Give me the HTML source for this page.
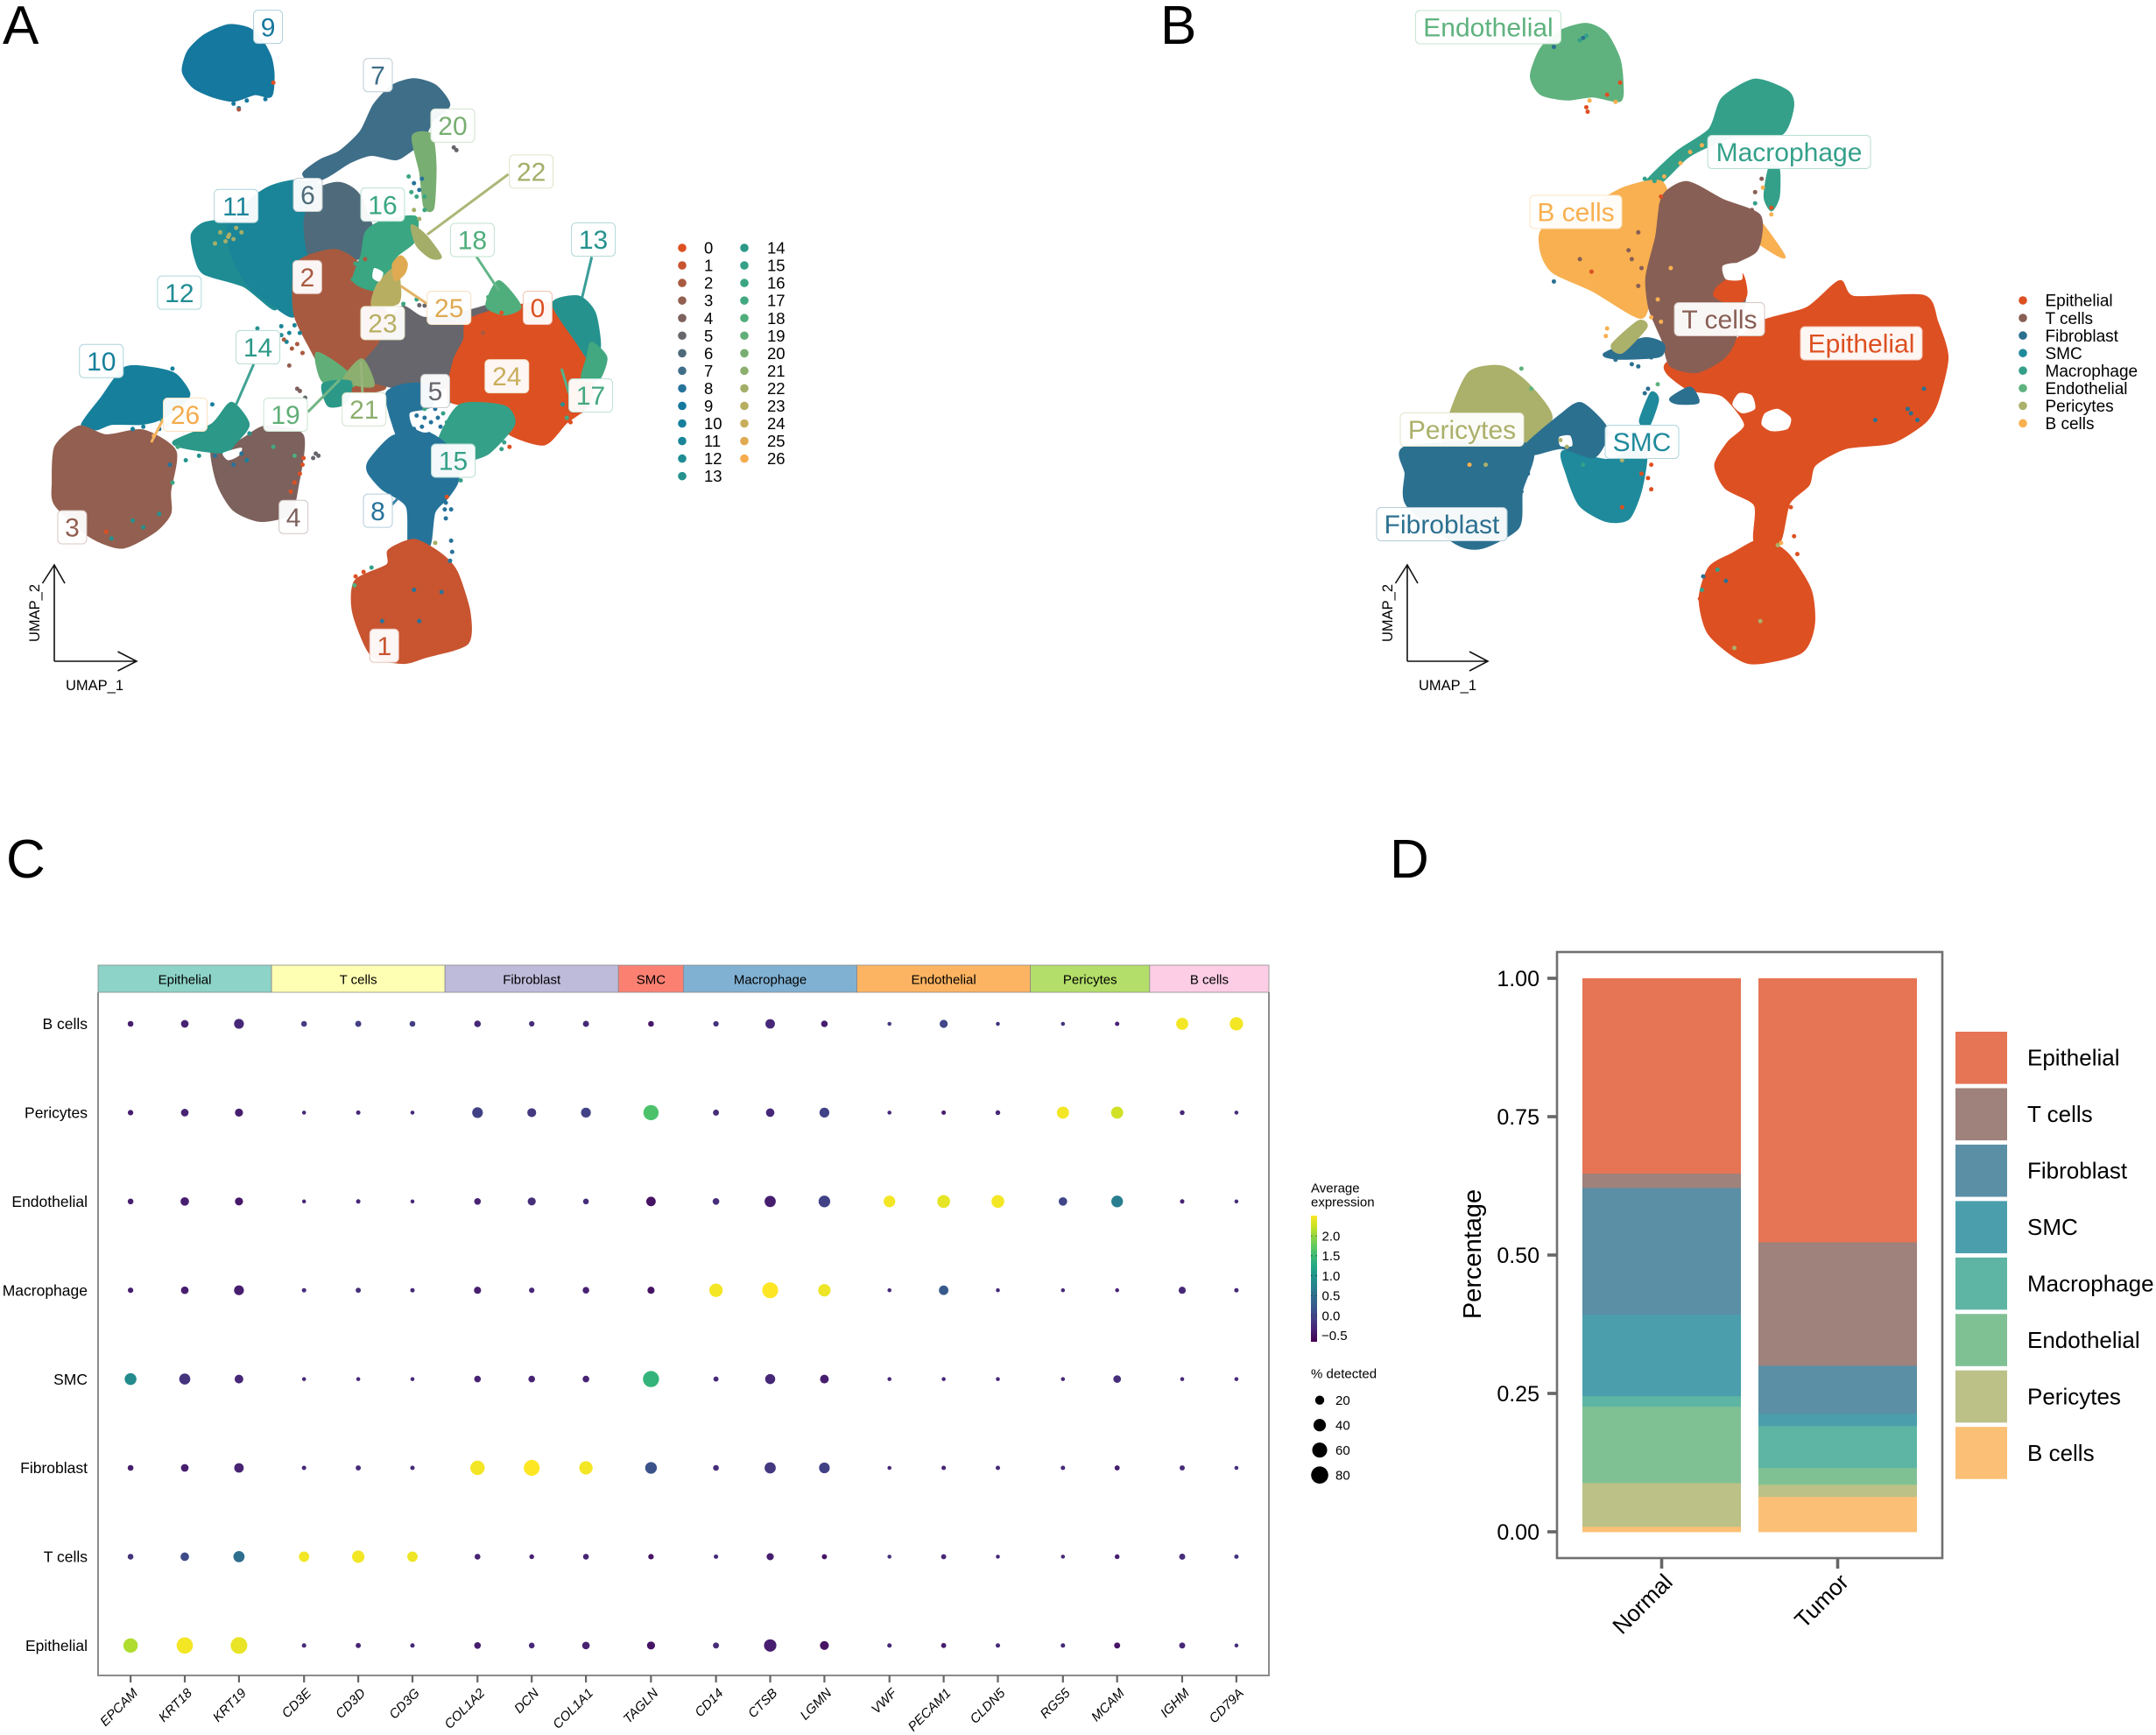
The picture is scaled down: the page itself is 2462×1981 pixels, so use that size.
<!DOCTYPE html>
<html lang="en">
<head>
<meta charset="utf-8">
<title>Single-cell atlas figure</title>
<style>
html,body{margin:0;padding:0;background:#fff;}
svg{display:block;font-family:"Liberation Sans",Arial,sans-serif;}
</style>
</head>
<body>
<svg id="figure" xmlns="http://www.w3.org/2000/svg" width="2462" height="1981" viewBox="0 0 2462 1981">
<defs>
<linearGradient id="viridis-gradient" x1="0" y1="1" x2="0" y2="0">
<stop offset="0" stop-color="#440154"/><stop offset="0.1" stop-color="#482475"/><stop offset="0.2" stop-color="#414487"/><stop offset="0.3" stop-color="#355f8d"/><stop offset="0.4" stop-color="#2a788e"/><stop offset="0.5" stop-color="#21918c"/><stop offset="0.6" stop-color="#22a884"/><stop offset="0.7" stop-color="#44bf70"/><stop offset="0.8" stop-color="#7ad151"/><stop offset="0.9" stop-color="#bddf26"/><stop offset="1" stop-color="#fde725"/>
</linearGradient>
</defs>
</svg>
<script>
/* ---------- Panel A data (UMAP units x100, second axis pointing down) ---------- */
const clusterIds = [0,1,2,3,4,5,6,7,8,9,10,11,12,13,14,15,16,17,18,19,20,21,22,23,24,25,26];
const clusterColors = ["#dd5022","#c85430","#a85a40","#925f50","#7d615c","#66666c","#4f6a7a","#3e6e88","#26739a","#15789e","#16809c","#1a8598","#1f8c94","#25928e","#2b9888","#35a088","#3aa682","#42a880","#50ae7c","#62ae78","#78ae72","#8cae6e","#a4ae68","#b8ae62","#c8ae5c","#e0aa52","#f4ac4c"];
const clusterBlobsA = [
 [9,[[345,160],[355,115],[385,80],[430,57],[470,65],[495,95],[510,130],[515,170],[510,215],[480,210],[440,225],[400,215],[365,195]]],
 [7,[[640,340],[680,295],[705,235],[740,192],[780,178],[820,192],[846,235],[815,270],[795,315],[770,340],[745,356],[700,346],[660,362],[620,392],[590,406],[572,388],[605,358]]],
 [12,[[362,525],[385,500],[430,497],[480,540],[520,690],[460,640],[385,612],[368,575]]],
 [11,[[430,510],[470,450],[510,418],[560,405],[615,425],[610,520],[590,590],[575,660],[552,708],[510,678],[470,640],[440,580]]],
 [6,[[575,490],[600,425],[640,410],[675,435],[703,520],[690,570],[640,585],[585,575]]],
 [20,[[778,305],[812,302],[820,370],[816,465],[800,462],[792,385]]],
 [2,[[560,590],[630,560],[675,590],[700,650],[730,700],[765,725],[735,790],[705,830],[725,868],[670,878],[615,838],[585,778],[555,700]]],
 [5,[[755,688],[800,712],[880,697],[948,680],[900,760],[868,830],[838,868],[770,872],[702,853],[682,820],[715,770]]],
 [0,[[882,717],[960,687],[1050,682],[1096,760],[1118,830],[1108,905],[1066,946],[1025,994],[957,968],[944,913],[848,897],[855,810],[875,760]]],
 [13,[[1042,680],[1090,664],[1120,700],[1130,775],[1116,812],[1087,765]]],
 [17,[[1115,768],[1142,800],[1128,848],[1097,848],[1107,800]]],
 [18,[[917,684],[940,630],[980,686],[950,703]]],
 [16,[[690,520],[720,496],[783,486],[780,540],[746,574],[748,608],[708,648],[667,628],[682,570]]],
 [22,[[776,505],[802,528],[830,574],[812,576],[786,549]]],
 [23,[[713,635],[745,600],[753,640],[749,678],[702,684]]],
 [25,[[741,592],[755,574],[766,590],[761,612],[745,626]]],
 [19,[[597,790],[650,829],[666,863],[609,853]]],
 [21,[[649,851],[682,805],[703,863]]],
 [14,[[609,860],[660,855],[651,901],[619,907]]],
 [8,[[729,880],[770,860],[816,869],[806,960],[816,986],[760,992],[741,950]]],
 [15,[[827,985],[867,907],[950,910],[968,950],[921,1013],[881,1033],[857,1067],[827,1043]]],
 [8,[[697,1030],[740,977],[800,967],[843,1000],[863,1070],[843,1113],[818,1146],[808,1222],[772,1222],[767,1133],[720,1093],[694,1056]]],
 [1,[[733,1232],[780,1209],[830,1240],[860,1280],[884,1370],[880,1440],[800,1470],[760,1483],[700,1465],[666,1370],[670,1300],[730,1265]]],
 [10,[[155,950],[192,890],[235,824],[285,824],[330,838],[356,880],[342,906],[300,938],[265,948],[210,948],[182,960]]],
 [3,[[105,1000],[150,955],[200,975],[270,964],[330,1010],[320,1100],[320,1150],[290,1190],[230,1225],[170,1200],[105,1130],[100,1080]]],
 [4,[[400,1000],[450,988],[500,955],[570,975],[560,1090],[545,1150],[490,1165],[440,1140],[410,1080]]],
 [14,[[328,988],[400,950],[436,902],[468,950],[442,992],[422,1012],[350,1002]]]
];
const gapBlobsA = [
 [[772,925],[795,918],[830,912],[838,950],[802,968],[778,955]],
 [[705,600],[722,610],[715,630],[702,622]],
 [[420,1014],[455,1002],[450,1020],[430,1030]]
];
const scatterA = [
 [22,405,545],[22,415,520],[22,432,525],[22,440,535],[22,425,540],[22,455,520],[23,430,530],[22,445,510],
 [11,530,730],[11,545,745],[11,555,728],[11,540,765],[12,530,750],[9,450,242],[2,450,245],[0,515,185],[9,440,232],[9,465,225],[9,500,222],
 [2,560,770],[2,535,760],[2,570,790],[3,545,818],[2,550,780],[11,565,745],[4,565,875],[5,575,890],[4,560,870],[5,600,1020],[5,590,1025],[5,595,1015],[5,855,330],[5,860,336],
 [0,570,1040],[0,565,1060],[0,555,1080],[0,572,1025],[0,548,1100],[18,555,1020],
 [8,850,1140],[8,840,1160],[8,850,1210],[8,852,1235],[8,848,1255],[22,820,1215],[8,840,1125],[8,838,1140],[15,868,1075],[0,842,1112],
 [8,780,1320],[8,790,1390],[8,832,1325],[8,720,1390],[18,668,1310],[0,670,1290],[0,685,1280],[15,700,1270],
 [16,775,430],[16,785,440],[8,780,410],[8,790,425],[16,800,470],[22,780,470],[8,795,400],[22,790,490],[16,770,395],[16,800,440],
 [5,790,683],[5,800,684],[16,760,680],[16,785,670],[2,688,580],[16,670,590],[16,680,610],[16,665,625],[16,690,630],[23,710,660],
 [8,320,1040],[16,325,1080],[16,335,1000],[13,250,1165],[13,270,1180],[13,210,1205],[13,300,1150],[0,200,1190],
 [8,405,1020],[8,440,1040],[10,465,1030],[13,470,970],[8,455,1015],[10,400,905],[13,485,735],[17,515,1000],[13,375,1020],[13,350,1030],
 [26,290,975],[10,270,955],[10,250,960],[8,300,960],[8,315,950],[10,325,825],[13,305,940],
 [8,755,880],[8,770,905],[8,790,890],[8,735,895],[8,800,935],[8,820,915],[8,845,900],[8,825,935],[8,780,960],[16,800,915],[15,835,925],[8,785,930],[8,812,945],[8,795,955],[8,830,955],[15,842,945],
 [0,1060,950],[0,1075,945],[13,1060,905],[17,1068,935],[0,1095,920],[0,960,1000],[15,945,1005],[15,950,990],
 [2,910,745],[0,945,700],[18,920,665],[13,1090,700]
];
const labelsA = [["9",505,60],["7",712,168],["20",853,281],["22",1001,384],["16",721,458],["6",580,436],["11",445,461],["12",338,655],["2",579,620],["18",890,537],["13",1118,536],["25",846,689],["0",1013,689],["23",721,723],["24",955,842],["14",486,777],["10",191,808],["26",349,928],["19",538,928],["21",686,916],["5",820,875],["17",1113,885],["15",854,1031],["8",712,1143],["4",553,1157],["3",136,1180],["1",724,1445]];
const leadersA = [[22,958,390,805,525],[13,1115,575,1097,665],[18,897,573,940,650],[25,805,680,755,640],[17,1072,880,1058,825],[14,478,815,445,905],[19,580,922,640,850],[21,683,880,680,810],[26,308,937,285,990],[8,738,1130,750,1115]];

/* ---------- Panel B data ---------- */
const cellTypes = ["Epithelial","T cells","Fibroblast","SMC","Macrophage","Endothelial","Pericytes","B cells"];
const cellColorsB = ["#dd5022","#885f55","#2c7090","#1f8a9c","#34a08a","#5fb27e","#abb06a","#f8b050"];
const cellBlobsB = [
 [5,[[605,170],[620,110],[650,70],[690,54],[720,75],[740,130],[745,180],[742,225],[700,215],[660,222],[620,210]]],
 [4,[[880,290],[900,220],[950,179],[1000,205],[1008,240],[990,300],[920,305],[885,322],[845,352],[806,406],[782,408],[830,340]]],
 [4,[[972,378],[986,378],[986,440],[975,470],[965,440]]],
 [7,[[620,520],[650,480],[700,458],[750,420],[806,408],[822,500],[797,620],[780,705],[760,703],[700,650],[640,610],[622,570]]],
 [7,[[952,490],[975,530],[995,575],[975,562],[946,530]]],
 [0,[[815,835],[818,810],[900,780],[960,720],[1030,690],[1080,630],[1102,665],[1210,663],[1230,720],[1246,800],[1230,900],[1210,946],[1160,990],[1090,1002],[1042,1040],[1032,1085],[1002,1126],[987,1212],[950,1212],[950,1130],[905,1092],[889,1040],[909,990],[935,950],[900,885],[850,872]]],
 [0,[[915,1240],[960,1208],[1000,1240],[1035,1320],[1040,1400],[1020,1460],[940,1483],[880,1420],[865,1340],[880,1270]]],
 [1,[[808,440],[845,408],[900,448],[957,483],[952,560],[906,600],[935,650],[918,762],[900,802],[860,832],[820,818],[808,762],[788,692],[783,620],[798,530]]],
 [0,[[895,640],[928,612],[936,660],[918,682],[888,662]]],
 [6,[[480,930],[510,834],[560,821],[600,860],[636,935],[592,1005],[475,1005]]],
 [2,[[414,1000],[600,995],[590,1100],[585,1180],[530,1225],[490,1216],[414,1130],[412,1060]]],
 [3,[[655,1010],[722,1030],[780,1000],[775,1090],[755,1160],[720,1165],[680,1130],[660,1060]]],
 [2,[[598,995],[650,930],[682,903],[722,962],[702,1022],[652,1002],[608,1016]]],
 [3,[[773,942],[790,880],[800,895],[786,952]]],
 [2,[[718,792],[778,758],[808,770],[802,797],[740,802]]],
 [2,[[820,892],[850,868],[862,900],[830,902]]],
 [6,[[730,772],[770,720],[782,732],[745,788]]]
];
const gapBlobsB = [
 [[965,925],[985,915],[1005,935],[1000,960],[975,965],[960,950]],
 [[925,880],[945,885],[950,915],[930,925],[915,905]],
 [[900,595],[925,590],[930,625],[905,625]],
 [[648,978],[665,975],[668,998],[650,998]]
];
const scatterB = [
 [2,640,105],[2,685,85],[4,680,90],[4,690,80],[0,690,240],[0,692,250],[7,735,228],[0,742,185],[7,695,225],[0,722,212],
 [7,850,340],[4,840,350],[7,810,395],[4,795,405],[7,868,325],[4,855,335],[7,835,365],[4,780,400],
 [1,960,400],[1,950,430],[4,950,455],[7,975,480],[0,975,465],[1,945,470],[7,962,420],
 [1,680,580],[0,698,608],[2,640,630],[1,755,560],[1,770,520],[1,805,460],[0,805,440],[7,820,600],[1,775,600],[1,770,640],[1,760,580],[7,800,670],[7,790,710],[7,805,720],
 [7,722,735],[7,720,752],[2,725,790],[2,735,805],[2,760,815],[2,770,820],[2,790,800],
 [0,790,1040],[0,775,1060],[0,790,1095],[0,785,1070],[0,745,1135],[6,745,1030],[4,685,1040],[6,660,1000],[6,650,985],
 [2,595,1040],[2,600,1060],[2,590,1085],[2,590,1100],[7,510,1040],[6,535,1040],[5,590,825],[5,605,870],
 [0,965,1060],[0,1010,1200],[0,1015,1240],[0,1005,1135],[7,990,1215],[6,985,1220],
 [2,870,1290],[0,880,1275],[4,868,1320],[2,905,1300],[4,892,1275],[0,865,1340],[6,958,1390],[6,918,1450],
 [2,1210,870],[2,1190,925],[2,1200,940],[2,1135,940],[2,1185,915],[5,800,860],[2,785,870],[2,780,880]
];
const labelsB = [[0,"Endothelial",5,1699.5,31,166],[1,"Macrophage",4,2043,173.5,186],[2,"B cells",7,1799.5,242,105],[3,"T cells",1,1963.5,364.5,103],[4,"Epithelial",0,2125.5,392,139],[5,"Pericytes",6,1669.5,490.5,141],[6,"SMC",3,1875,504.5,84],[7,"Fibroblast",2,1646.5,598.5,149]];

/* ---------- Panel C data ---------- */
const dotGroups = ["Epithelial","T cells","Fibroblast","SMC","Macrophage","Endothelial","Pericytes","B cells"];
const dotGroupSizes = [3,3,3,1,3,3,2,2];
const dotGroupColors = ["#8dd3c7","#ffffb3","#bebada","#fb8072","#80b1d3","#fdb462","#b3de69","#fccde5"];
const dotGenes = ["EPCAM","KRT18","KRT19","CD3E","CD3D","CD3G","COL1A2","DCN","COL1A1","TAGLN","CD14","CTSB","LGMN","VWF","PECAM1","CLDN5","RGS5","MCAM","IGHM","CD79A"];
const dotRows = ["B cells","Pericytes","Endothelial","Macrophage","SMC","Fibroblast","T cells","Epithelial"];
const pctDetected = [
 [6,13,24,6,7,6,9,5,7,6,5,22,9,1,15,1,1,2,38,47],
 [5,13,15,1,2,1,29,19,24,62,7,17,24,1,2,3,38,38,3,1],
 [6,17,15,1,2,1,9,15,6,22,9,32,35,35,43,43,17,35,2,1],
 [5,13,24,2,4,2,11,5,9,11,47,68,40,1,22,1,1,1,11,2],
 [36,31,18,1,1,1,9,9,9,70,4,25,18,1,1,1,1,13,1,1],
 [6,13,22,2,4,2,55,68,47,35,6,32,29,1,2,2,2,4,4,1],
 [6,17,32,27,40,27,6,3,6,5,2,11,4,1,4,1,1,3,7,2],
 [55,72,75,2,4,2,9,6,13,15,7,40,19,2,4,2,2,7,7,1]
];
const avgExpression = [
 [-0.4,-0.35,-0.3,-0.1,-0.1,-0.1,-0.3,-0.25,-0.3,-0.45,-0.2,-0.3,-0.4,-0.1,0.0,-0.2,-0.2,-0.35,2.45,2.45],
 [-0.4,-0.35,-0.4,-0.3,-0.3,-0.3,-0.05,-0.15,-0.05,1.6,-0.25,-0.3,-0.05,-0.3,-0.4,-0.3,2.45,2.28,-0.3,-0.25],
 [-0.4,-0.4,-0.45,-0.3,-0.3,-0.3,-0.35,-0.25,-0.25,-0.5,-0.25,-0.4,-0.05,2.45,2.38,2.45,0.0,0.67,-0.35,-0.25],
 [-0.4,-0.4,-0.4,-0.25,-0.25,-0.3,-0.4,-0.3,-0.35,-0.5,2.45,2.5,2.42,-0.3,0.22,-0.3,-0.3,-0.35,-0.3,-0.3],
 [0.85,-0.2,-0.3,-0.3,-0.3,-0.3,-0.35,-0.35,-0.35,1.4,-0.3,-0.3,-0.4,-0.3,-0.3,-0.3,-0.3,-0.25,-0.3,-0.3],
 [-0.4,-0.4,-0.35,-0.3,-0.3,-0.3,2.45,2.5,2.45,0.13,-0.25,-0.15,-0.05,-0.3,-0.35,-0.3,-0.3,-0.4,-0.3,-0.25],
 [-0.2,0.05,0.48,2.45,2.45,2.42,-0.35,-0.35,-0.35,-0.5,-0.3,-0.4,-0.5,-0.2,-0.3,-0.3,-0.3,-0.4,-0.25,-0.2],
 [2.12,2.45,2.4,-0.3,-0.35,-0.3,-0.4,-0.3,-0.35,-0.5,-0.25,-0.4,-0.5,-0.3,-0.4,-0.3,-0.3,-0.5,-0.3,-0.25]
];
const colorbarTicks = [2.0,1.5,1.0,0.5,0.0,-0.5];
const sizeLegendValues = [20,40,60,80];
const viridisStops = ["#440154","#482475","#414487","#355f8d","#2a788e","#21918c","#22a884","#44bf70","#7ad151","#bddf26","#fde725"];

/* ---------- Panel D data ---------- */
const conditions = ["Normal","Tumor"];
const normalShares = [0.353,0.026,0.229,0.147,0.019,0.138,0.079,0.009];
const tumorShares = [0.477,0.223,0.087,0.022,0.076,0.030,0.022,0.063];
const shareColors = ["#e57555","#9e827b","#5a8fa6","#4b9fad","#5eb5a3","#80c194","#bcc187","#fbc075"];
const shareTicks = [0,0.25,0.5,0.75,1];

/* ---------- helpers ---------- */
const NS = "http://www.w3.org/2000/svg";
const root = document.getElementById("figure");
function mk(tag, parent, props){
  const el = document.createElementNS(NS, tag);
  for (const k in props) el.setAttribute(k, props[k]);
  (parent || root).appendChild(el);
  return el;
}
function group(parent){ return mk("g", parent, {}); }
function txt(parent, x, cy, s, size, props){
  const el = mk("text", parent, Object.assign({x:x, y:cy + size*0.355, "font-size":size, fill:"#000"}, props||{}));
  el.textContent = s;
  return el;
}
function smoothPath(pts, fx, fy){
  const P = pts.map(p => [fx(p[0]), fy(p[1])]);
  const n = P.length;
  const k = 1/8;
  let d = "M" + P[0][0].toFixed(1) + " " + P[0][1].toFixed(1);
  for (let i=0;i<n;i++){
    const p0 = P[(i-1+n)%n], p1 = P[i], p2 = P[(i+1)%n], p3 = P[(i+2)%n];
    const c1x = p1[0] + (p2[0]-p0[0])*k, c1y = p1[1] + (p2[1]-p0[1])*k;
    const c2x = p2[0] - (p3[0]-p1[0])*k, c2y = p2[1] - (p3[1]-p1[1])*k;
    d += "C" + c1x.toFixed(1) + " " + c1y.toFixed(1) + " " + c2x.toFixed(1) + " " + c2y.toFixed(1) + " " + p2[0].toFixed(1) + " " + p2[1].toFixed(1);
  }
  return d + "Z";
}
function tint(hex, t){
  const v = [1,3,5].map(i => parseInt(hex.substr(i,2),16));
  return "rgb(" + v.map(c => Math.round(c + (255-c)*t)).join(",") + ")";
}
function viridis(t){
  t = Math.max(0, Math.min(1, t));
  const f = t*(viridisStops.length-1), i = Math.min(Math.floor(f), viridisStops.length-2), r = f-i;
  const a = [1,3,5].map(k => parseInt(viridisStops[i].substr(k,2),16));
  const b = [1,3,5].map(k => parseInt(viridisStops[i+1].substr(k,2),16));
  return "rgb(" + a.map((c,k) => Math.round(c+(b[k]-c)*r)).join(",") + ")";
}
function arrowAxes(parent, ox, oy, topY, rightX, hx){
  const axUp = mk("path", parent, {d:"M"+ox+" "+oy+"V"+topY+"M"+(ox-13.5)+" "+(topY+21)+"L"+ox+" "+topY+"L"+(ox+12)+" "+(topY+21), fill:"none", stroke:"#111", "stroke-width":1.6});
  
  
  const axRight = mk("path", parent, {d:"M"+ox+" "+oy+"H"+rightX+"M"+hx+" "+(oy-11)+"L"+rightX+" "+oy+"L"+hx+" "+(oy+11), fill:"none", stroke:"#111", "stroke-width":1.6});
  
  
  const y2 = txt(parent, 0, 0, "UMAP_2", 16.5, {transform:"translate("+(ox-23)+" 700) rotate(-90)", "text-anchor":"middle", y:6});
  
  
  const x1 = txt(parent, ox+46, 782, "UMAP_1", 16.5, {"text-anchor":"middle"});
  
  
}

/* ---------- panel letters ---------- */
const panelLetters = [["A",3,50],["B",1325,50],["C",7,1002],["D",1587,1002]];
panelLetters.forEach(p => {
  const el = mk("text", root, {x:p[1], y:p[2], "font-size":62, fill:"#000"});
  el.textContent = p[0];
  
  
});

/* ---------- Panel A ---------- */
const ax = u => u/1.65, ay = v => v/1.96;
const gA = group();


clusterBlobsA.forEach(b => {
  const c = clusterColors[b[0]];
  const el = mk("path", gA, {d:smoothPath(b[1],ax,ay), fill:c, stroke:c, "stroke-width":3, "stroke-linejoin":"round"});
  
  
});
gapBlobsA.forEach(b => {
  const el = mk("path", gA, {d:smoothPath(b,ax,ay), fill:"#fff"});
  
  
});
scatterA.forEach(p => {
  const el = mk("circle", gA, {cx:ax(p[1]), cy:ay(p[2]), r:2.5, fill:clusterColors[p[0]]});
  
  
});
leadersA.forEach(l => {
  const el = mk("line", gA, {x1:ax(l[1]), y1:ay(l[2]), x2:ax(l[3]), y2:ay(l[4]), stroke:tint(clusterColors[l[0]],0.1), "stroke-width":3});
  
  
});
labelsA.forEach(l => {
  const c = clusterColors[+l[0]];
  const w = l[0].length>1 ? 50 : 33, cx = ax(l[1]), cy = ay(l[2]);
  const g = group(gA);
  
  
  mk("rect", g, {x:cx-w/2, y:cy-19, width:w, height:38, rx:5, fill:"#fff", "fill-opacity":0.95, stroke:tint(c,0.65), "stroke-width":1});
  txt(g, cx, cy, l[0], 30, {"text-anchor":"middle", fill:c});
});
clusterIds.forEach((id,i) => {
  const col = i<14 ? 0 : 1, row = i<14 ? i : i-14;
  const y = 283 + row*20.05;
  const g = group(gA);
  
  
  mk("circle", g, {cx:col?850:779, cy:y, r:4.8, fill:clusterColors[i]});
  txt(g, col?876:804, y, String(id), 18.5);
});
arrowAxes(gA, 62, 755, 645, 156, 134.5);

/* ---------- Panel B ---------- */
const bx = u => 1300 + u/1.349, by = v => v/1.96;
const gB = group();


cellBlobsB.forEach(b => {
  const c = cellColorsB[b[0]];
  const el = mk("path", gB, {d:smoothPath(b[1],bx,by), fill:c, stroke:c, "stroke-width":3, "stroke-linejoin":"round"});
  
  
});
gapBlobsB.forEach(b => {
  const el = mk("path", gB, {d:smoothPath(b,bx,by), fill:"#fff"});
  
  
});
scatterB.forEach(p => {
  const el = mk("circle", gB, {cx:bx(p[1]), cy:by(p[2]), r:2.5, fill:cellColorsB[p[0]]});
  
  
});
labelsB.forEach(l => {
  const c = cellColorsB[l[2]];
  const g = group(gB);
  
  
  mk("rect", g, {x:l[3]-l[5]/2, y:l[4]-19, width:l[5], height:38, rx:5, fill:"#fff", "fill-opacity":0.95, stroke:tint(c,0.65), "stroke-width":1});
  txt(g, l[3], l[4], l[1], 30, {"text-anchor":"middle", fill:c});
});
cellTypes.forEach((t,i) => {
  const y = 343 + i*20.05;
  const g = group(gB);
  
  
  mk("circle", g, {cx:2310, cy:y, r:4.8, fill:cellColorsB[i]});
  txt(g, 2335.5, y, t, 19);
});
arrowAxes(gB, 1607, 755, 645, 1699, 1678);

/* ---------- Panel C ---------- */
const gC = group();


const cLeft = 112, cRight = 1449, stripTop = 1102, stripBottom = 1133, cBottom = 1913;
const totalUnits = dotGroupSizes.reduce((a,b)=>a+b+0.2,0);
const colStep = (cRight-cLeft)/totalUnits;
const geneX = [];
let fx0 = cLeft;
dotGroups.forEach((name,i) => {
  const w = (dotGroupSizes[i]+0.2)*colStep;
  const g = group(gC);
  
  
  mk("rect", g, {x:fx0, y:stripTop, width:w, height:stripBottom-stripTop, fill:dotGroupColors[i], stroke:"#8a8a8a", "stroke-width":0.8});
  txt(g, fx0+w/2, 1118, name, 15, {"text-anchor":"middle"});
  for (let k=0;k<dotGroupSizes[i];k++) geneX.push(fx0 + (0.6+k)*colStep);
  fx0 += w;
});
const rowY = i => 1169 + i*101.4;
const pctToR = p => Math.sqrt(4 + 1.15*p);
const exprToT = v => (v+0.66)/3.16;
const leftAxis = mk("path", gC, {d:"M"+cLeft+" "+stripBottom+"V"+cBottom+"H"+cRight+"V"+stripBottom, fill:"none", stroke:"#8c8c8c", "stroke-width":2});


dotRows.forEach((r,i) => {
  const el = txt(gC, 100, rowY(i), r, 17.5, {"text-anchor":"end"});
  
  
  dotGenes.forEach((g,j) => {
    const dot = mk("circle", gC, {cx:geneX[j].toFixed(1), cy:rowY(i).toFixed(1), r:pctToR(pctDetected[i][j]).toFixed(2), fill:viridis(exprToT(avgExpression[i][j]))});
    
    
  });
});
dotGenes.forEach((g,j) => {
  const x = geneX[j];
  const t = mk("line", gC, {x1:x, y1:cBottom, x2:x, y2:cBottom+8, stroke:"#666", "stroke-width":2.2});
  
  
  const l = mk("text", gC, {transform:"translate("+(x+9).toFixed(1)+" 1934) rotate(-45)", "text-anchor":"end", "font-size":15, "font-style":"italic", fill:"#000"});
  l.textContent = g;
  
  
});
/* colour & size legends */
const gLeg = group(gC);


const t1 = txt(gLeg, 1497, 1356, "Average", 15);


const t2 = txt(gLeg, 1497, 1372, "expression", 15);


const cbar = mk("rect", gLeg, {x:1497, y:1388, width:7, height:144, fill:"url(#viridis-gradient)"});


const cbarY = v => 1524.7 - (v+0.5)*45.4;
colorbarTicks.forEach(v => {
  const lab = txt(gLeg, v<0?1509:1509.5, cbarY(v), v<0 ? "\u2212" + Math.abs(v).toFixed(1) : v.toFixed(1), 15);
  
  
  const tk = mk("path", gLeg, {d:"M1497 "+cbarY(v)+"h1.6M1502.4 "+cbarY(v)+"h1.6", stroke:"#222", "stroke-width":0.7});
  
  
});
const t3 = txt(gLeg, 1497, 1568, "% detected", 15);


sizeLegendValues.forEach((v,i) => {
  const y = 1598.7 + i*28.5;
  const c = mk("circle", gLeg, {cx:1507, cy:y, r:pctToR(v), fill:"#000"});
  
  
  const l = txt(gLeg, 1525, y, String(v), 15);
  
  
});

/* ---------- Panel D ---------- */
const gD = group();


const shareY = v => 1749 - 632*v;
const barX = [1807, 2008];
const barW = 181;
[normalShares, tumorShares].forEach((shares,b) => {
  let top = 1;
  shares.forEach((s,i) => {
    const r = mk("rect", gD, {x:barX[b], y:shareY(top).toFixed(1), width:barW, height:(s*632+0.4).toFixed(1), fill:shareColors[i]});
    
    
    top -= s;
  });
});
const frame = mk("rect", gD, {x:1778, y:1087, width:440, height:692, fill:"none", stroke:"#707070", "stroke-width":2.6});


shareTicks.forEach(v => {
  const y = shareY(v);
  const t = mk("line", gD, {x1:1767, y1:y, x2:1778, y2:y, stroke:"#666", "stroke-width":3.6});
  
  
  const l = txt(gD, 1758, y, v.toFixed(2), 25, {"text-anchor":"end"});
  
  
});
conditions.forEach((c,b) => {
  const x = barX[b] + barW/2;
  const t = mk("line", gD, {x1:x, y1:1779, x2:x, y2:1791, stroke:"#666", "stroke-width":3.6});
  
  
  const l = mk("text", gD, {transform:"translate("+(x+14)+" 1808) rotate(-45)", "text-anchor":"end", "font-size":26, fill:"#000"});
  l.textContent = c;
  
  
});
const yTitle = mk("text", gD, {transform:"translate(1691 1432) rotate(-90)", "text-anchor":"middle", "font-size":29, fill:"#000"});
yTitle.textContent = "Percentage";


cellTypes.forEach((t,i) => {
  const y = 1178 + i*64.45;
  const g = group(gD);
  
  
  mk("rect", g, {x:2233, y:y, width:59, height:59.6, fill:shareColors[i]});
  txt(g, 2315, y+29.5, t, 26);
});
</script>
</body>
</html>
